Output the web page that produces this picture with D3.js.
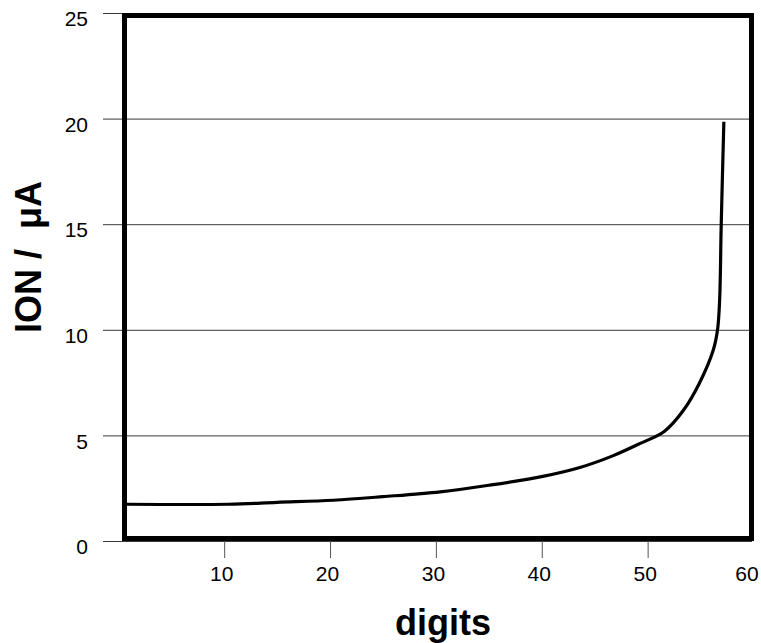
<!DOCTYPE html>
<html>
<head>
<meta charset="utf-8">
<script src="https://cdn.jsdelivr.net/npm/d3@7"></script>
<style>
  html, body { margin: 0; padding: 0; background: #fff; }
  svg { display: block; font-family: "Liberation Sans", Arial, sans-serif; }
</style>
</head>
<body>
<svg id="chart" width="761" height="643"></svg>
<script>
// ---- data ----
const digits = [0.8, 10.4, 15, 20.3, 25, 30.4, 35, 40.1, 43.6, 46.7, 49.3, 51.6, 53.4, 54.9, 56.2, 56.6, 56.8, 56.95, 57.2];
const ionValues = [1.74, 1.74, 1.83, 1.93, 2.1, 2.33, 2.64, 3.06, 3.48, 4.03, 4.62, 5.2, 6.2, 7.48, 9.04, 9.99, 11.4, 14.96, 19.85];
const xTicks = [10, 20, 30, 40, 50, 60];
const yTicks = [0, 5, 10, 15, 20, 25];
const xTitle = "digits";
const yTitle = "ION /  μA";

// ---- layout ----
const svg = d3.select("#chart");
const plotBottom = 541, plotTop = 13;
const x = d3.scaleLinear().domain([0, 60]).range([118.3, 753.5]);
const y = d3.scaleLinear().domain([0, 25]).range([plotBottom, plotTop]);

// y axis with gridlines
const yAxisX = 103;
const yAxis = d3.axisLeft(y)
  .tickValues(yTicks)
  .tickFormat(d3.format("d"))
  .tickSize(-(752 - yAxisX))
  .tickPadding(15);
const gy = svg.append("g")
  .attr("transform", `translate(${yAxisX},0)`)
  .call(yAxis);
gy.select(".domain").remove();
gy.selectAll(".tick line").attr("stroke", "#3a3a3a").attr("stroke-width", 1);
gy.selectAll(".tick text")
  .attr("font-size", 21)
  .attr("fill", "#000")
  .attr("dy", "0.6em");

// x axis
const xAxis = d3.axisBottom(x)
  .tickValues(xTicks)
  .tickFormat(d3.format("d"))
  .tickSize(17)
  .tickPadding(8);
const gx = svg.append("g")
  .attr("transform", `translate(0,${plotBottom})`)
  .call(xAxis);
gx.select(".domain").remove();
gx.selectAll(".tick line")
  .attr("stroke", "#555")
  .attr("stroke-width", 1)
  .attr("opacity", d => d === 60 ? 0 : 1);
gx.selectAll(".tick text")
  .attr("font-size", 21)
  .attr("fill", "#000")
  .attr("dx", d => d === 60 ? "-7" : "-3");

// curve
const pts = digits.map((d, i) => [d, ionValues[i]]);
const line = d3.line()
  .x(d => x(d[0]))
  .y(d => y(d[1]))
  .curve(d3.curveCatmullRom.alpha(0.5));
svg.append("path")
  .datum(pts)
  .attr("d", line)
  .attr("fill", "none")
  .attr("stroke", "#000")
  .attr("stroke-width", 3.2)
  .attr("stroke-linejoin", "round");

// frame
svg.append("rect")
  .attr("x", 124.5)
  .attr("y", 15.5)
  .attr("width", 627)
  .attr("height", 523)
  .attr("fill", "none")
  .attr("stroke", "#000")
  .attr("stroke-width", 5);

// titles
svg.append("text")
  .attr("x", 443)
  .attr("y", 635)
  .attr("text-anchor", "middle")
  .attr("font-size", 36)
  .attr("font-weight", "bold")
  .attr("fill", "#000")
  .text(xTitle);

svg.append("text")
  .attr("transform", "translate(41,257) rotate(-90)")
  .attr("text-anchor", "middle")
  .attr("font-size", 36)
  .attr("font-weight", "bold")
  .attr("fill", "#000")
  .style("white-space", "pre")
  .text(yTitle);
</script>
</body>
</html>
